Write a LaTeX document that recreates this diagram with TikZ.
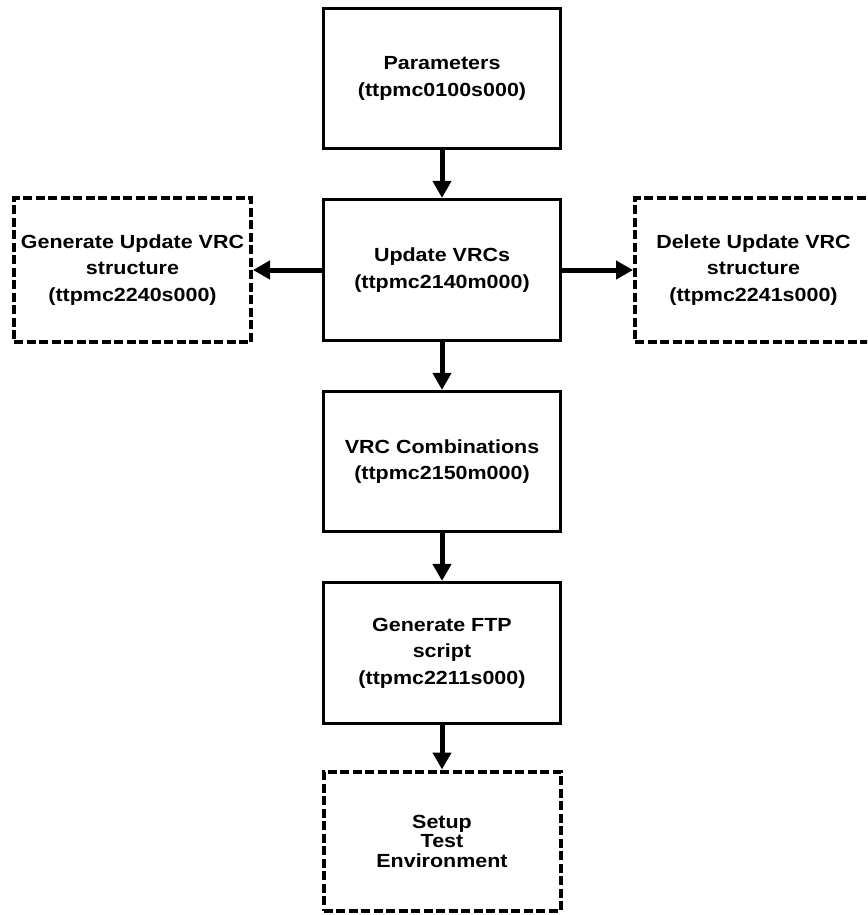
\documentclass[tikz,border=0pt]{standalone}
\usepackage{fontspec}
\setmainfont{Liberation Sans}[FakeStretch=1.13]
\usetikzlibrary{arrows.meta}

\tikzset{
  stepbox/.style={draw=black, line width=3.2pt, fill=white, align=center,
    minimum width=237pt, minimum height=141pt, inner sep=0pt,
    font=\bfseries\fontsize{19}{26.5}\selectfont},
  optbox/.style={stepbox, line width=4pt, dash pattern=on 9pt off 3.5pt},
  flow/.style={line width=5pt, -{Triangle[length=17pt,width=18pt]}}
}

\begin{document}
\begin{tikzpicture}[x=1pt, y=-1pt]
  \useasboundingbox (0,0) rectangle (867,915);
  \clip (0,0) rectangle (867,915);

  % main chain
  \node[stepbox, minimum height=140pt] (par) at (442,78.5) {Parameters\\(ttpmc0100s000)};
  \node[stepbox] (upd) at (442,270) {Update VRCs\\(ttpmc2140m000)};
  \node[stepbox, minimum height=140pt] (comb) at (442,461.5) {VRC Combinations\\(ttpmc2150m000)};
  \node[stepbox] (ftp) at (442,653) {Generate FTP\\script\\(ttpmc2211s000)};
  \node[optbox, minimum height=139pt, font=\bfseries\fontsize{19}{19.5}\selectfont] (env) at (442,841) {Setup\\Test\\Environment};

  % side branches
  \node[optbox, minimum height=144pt] (gen) at (132.5,270) {Generate Update VRC\\structure\\(ttpmc2240s000)};
  \node[optbox, minimum height=144pt] (del) at (753.5,270) {Delete Update VRC\\structure\\(ttpmc2241s000)};

  % connectors
  \draw[flow] (par) -- (upd);
  \draw[flow] (upd) -- (comb);
  \draw[flow] (comb) -- (ftp);
  \draw[flow] (ftp) -- (env);
  \draw[flow] (upd) -- (gen);
  \draw[flow] (upd) -- (del);
\end{tikzpicture}
\end{document}
